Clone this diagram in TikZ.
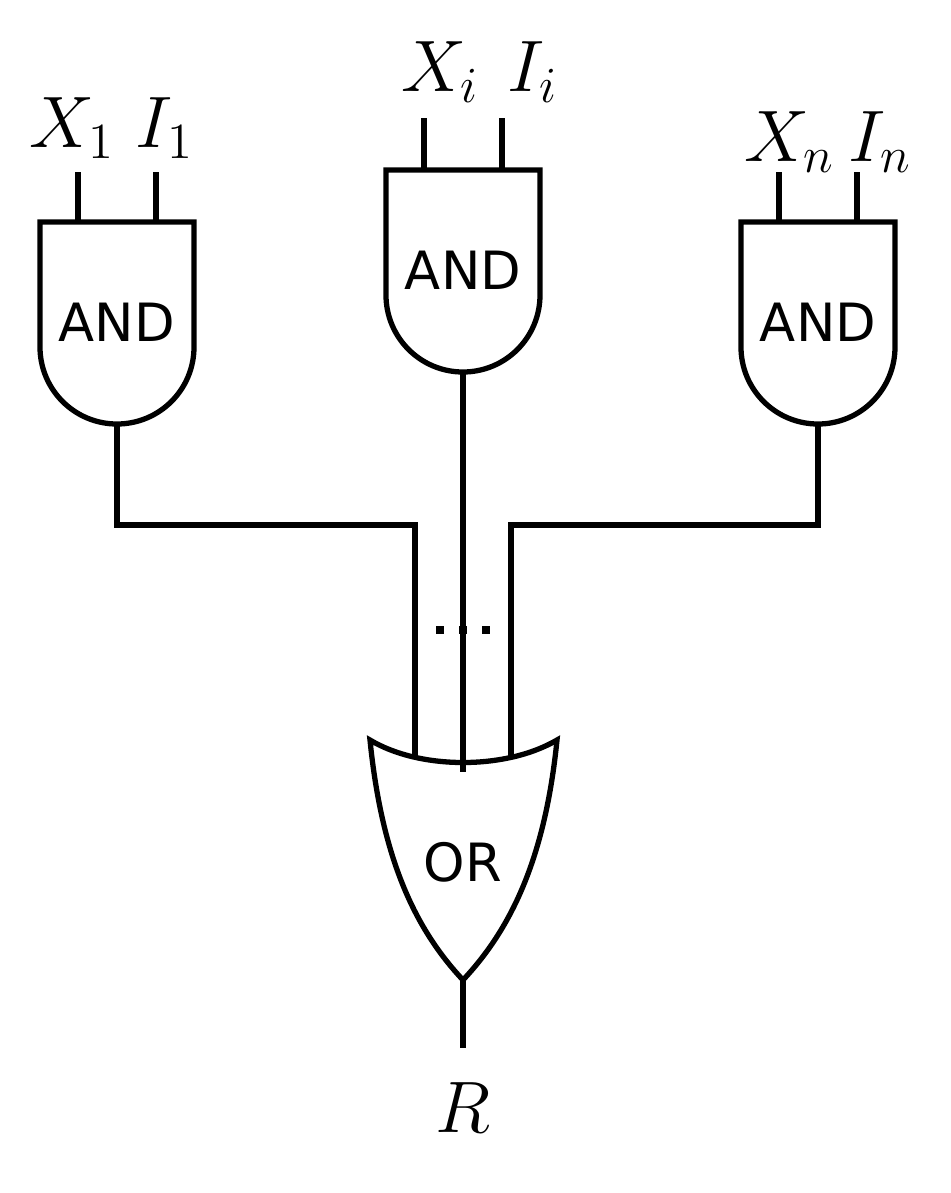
\documentclass[tikz,border=0pt]{standalone}
\usepackage{fontspec}
\setsansfont{DejaVu Sans}
\begin{document}
\begin{tikzpicture}[x=0.01cm,y=-0.01cm,
    wire/.style={line width=1.5pt},
    gate/.style={line width=1.5pt},
    lbl/.style={font=\fontsize{22}{26}\selectfont},
    gname/.style={font=\sffamily\fontsize{15}{18}\selectfont}]
    \useasboundingbox (0,0) rectangle (950,1193);
    % AND gates
    \foreach \cx/\top/\nm in {117/222/A1, 463/170/A2, 818/222/A3}{
        \draw [gate] (\cx-77,\top) -- (\cx+77,\top) -- (\cx+77,\top+125)
            arc (0:180:77) -- cycle;
        \node [gname] (\nm) at (\cx,\top+100) {AND};
        \coordinate (\nm in1) at (\cx-39,\top);
        \coordinate (\nm in2) at (\cx+39,\top);
        \coordinate (\nm out) at (\cx,\top+202);
    }
    % inputs
    \node [lbl] (x1) at (72,128) {$X_{1}$};
    \node [lbl] (i1) at (165,128) {$I_{1}$};
    \node [lbl] (xi) at (440,72) {$X_{i}$};
    \node [lbl] (ii) at (533,72) {$I_{i}$};
    \node [lbl] (xn) at (790,142) {$X_{n}$};
    \node [lbl] (in) at (880,142) {$I_{n}$};
    \draw [wire] (A1in1) -- ++(0,-50);
    \draw [wire] (A1in2) -- ++(0,-50);
    \draw [wire] (A2in1) -- ++(0,-52);
    \draw [wire] (A2in2) -- ++(0,-52);
    \draw [wire] (A3in1) -- ++(0,-50);
    \draw [wire] (A3in2) -- ++(0,-50);
    % OR gate
    \draw [gate] (370,740) .. controls (420,770) and (506,770) .. (557,740)
        .. controls (545,860) and (510,930) .. (463,980)
        .. controls (416,930) and (382,860) .. (370,740) -- cycle;
    \node [gname] (or) at (463,862) {OR};
    \coordinate (orin1) at (415,757);
    \coordinate (orin2) at (463,772);
    \coordinate (orin3) at (511,757);
    \coordinate (orout) at (463,980);
    \draw [wire] (A1out) |- (415,525) -- (orin1);
    \draw [wire] (A2out) -- (orin2);
    \draw [wire] (A3out) |- (511,525) -- (orin3);
    \foreach \dx in {440,463,486}
        \fill (\dx-4,626) rectangle (\dx+4,634);
    % output
    \node [lbl] (r) at (463,1108) {$R$};
    \draw [wire] (orout) -- (463,1048);
\end{tikzpicture}
\end{document}
